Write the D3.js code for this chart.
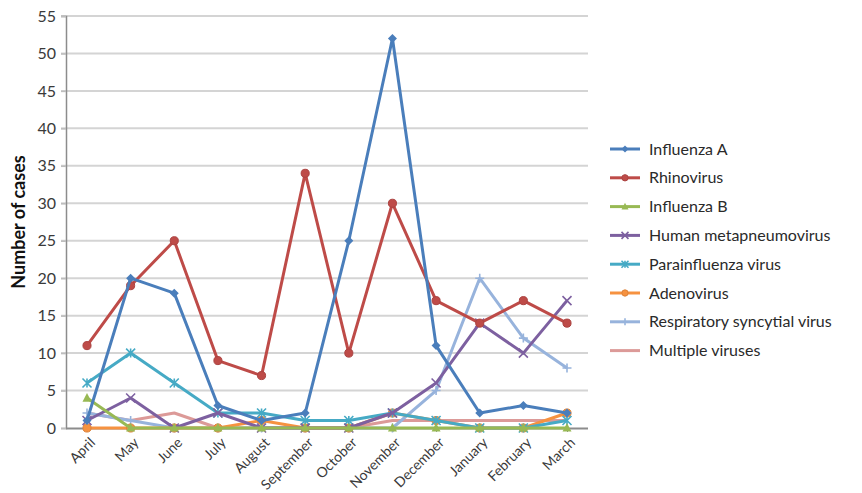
<!DOCTYPE html>
<html>
<head>
<meta charset="utf-8">
<script src="https://cdn.jsdelivr.net/npm/d3@7"></script>
<style>
  html, body { margin: 0; padding: 0; background: #fff; }
  svg { display: block; font-family: "Lato", "Open Sans", sans-serif; }
</style>
</head>
<body>
<svg id="chart" width="862" height="493"></svg>
<script>
// Months of the surveillance year
const months = ["April", "May", "June", "July", "August", "September", "October",
  "November", "December", "January", "February", "March"];

// Monthly case counts per virus
const influenzaA    = [1, 20, 18, 3, 1, 2, 25, 52, 11, 2, 3, 2];
const rhinovirus    = [11, 19, 25, 9, 7, 34, 10, 30, 17, 14, 17, 14];
const influenzaB    = [4, 0, 0, 0, 0, 0, 0, 0, 0, 0, 0, 0];
const metapneumo    = [1, 4, 0, 2, 0, 0, 0, 2, 6, 14, 10, 17];
const parainfluenza = [6, 10, 6, 2, 2, 1, 1, 2, 1, 0, 0, 1];
const adenovirus    = [0, 0, 0, 0, 1, 0, 0, 2, 1, 0, 0, 2];
const rsv           = [2, 1, 0, 0, 0, 0, 0, 0, 5, 20, 12, 8];
const multiple      = [2, 1, 2, 0, 0, 0, 0, 1, 1, 1, 1, 1];

const yTicks = [0, 5, 10, 15, 20, 25, 30, 35, 40, 45, 50, 55];

const series = [
  { name: "Influenza A", values: influenzaA, color: "#4a7ebb", marker: "diamond" },
  { name: "Rhinovirus", values: rhinovirus, color: "#be4b48", marker: "circle" },
  { name: "Influenza B", values: influenzaB, color: "#98b954", marker: "triangle" },
  { name: "Human metapneumovirus", values: metapneumo, color: "#7d60a0", marker: "x" },
  { name: "Parainfluenza virus", values: parainfluenza, color: "#46aac5", marker: "star" },
  { name: "Adenovirus", values: adenovirus, color: "#f69240", marker: "circle" },
  { name: "Respiratory syncytial virus", values: rsv, color: "#97b3dc", marker: "plus" },
  { name: "Multiple viruses", values: multiple, color: "#dc9a98", marker: "none" }
];

const svg = d3.select("#chart");
const margin = { left: 66, right: 274, top: 16, bottom: 65 };
const width = 862 - margin.left - margin.right;
const height = 493 - margin.top - margin.bottom;

const x = d3.scalePoint().domain(months).range([21, width - 21]);
const y = d3.scaleLinear().domain([0, 55]).range([height, 0]);

const g = svg.append("g").attr("transform", `translate(${margin.left},${margin.top})`);

// Horizontal grid lines
g.append("g")
  .selectAll("line")
  .data(yTicks.filter(d => d > 0))
  .join("line")
  .attr("x1", -5).attr("x2", width)
  .attr("y1", d => y(d)).attr("y2", d => y(d))
  .attr("stroke", "#d4d4d4").attr("stroke-width", 2);

// Y axis
const yAxis = g.append("g")
  .call(d3.axisLeft(y).tickValues(yTicks).tickSize(5).tickPadding(5));
yAxis.select(".domain").attr("stroke", "#8c8c8c").attr("stroke-width", 1.5);
yAxis.selectAll(".tick line").attr("stroke", "#bdbdbd").attr("stroke-width", 1.5);
yAxis.selectAll(".tick text")
  .attr("font-size", 16).attr("fill", "#3a3a3a")
  .attr("font-family", "Lato, 'Open Sans', sans-serif");

// X axis
const xAxis = g.append("g")
  .attr("transform", `translate(0,${height})`)
  .call(d3.axisBottom(x).tickSize(4).tickSizeOuter(0));
xAxis.select(".domain").attr("stroke", "#8c8c8c").attr("stroke-width", 2)
  .attr("d", `M0,0.5H${width}`);
xAxis.selectAll(".tick line").attr("stroke", "#8c8c8c");
xAxis.selectAll(".tick text")
  .attr("font-size", 14).attr("fill", "#3a3a3a")
  .attr("font-family", "Lato, 'Open Sans', sans-serif")
  .attr("text-anchor", "end")
  .attr("x", 0).attr("y", 0).attr("dy", "0.35em")
  .attr("transform", "translate(5,12) rotate(-45)");

// Y axis title
svg.append("text")
  .attr("transform", `translate(19,${margin.top + height / 2}) rotate(-90)`)
  .attr("dy", "0.35em")
  .attr("text-anchor", "middle")
  .attr("font-size", 18).attr("font-weight", "bold").attr("fill", "#111")
  .text("Number of cases");

// Marker shapes
function drawMarker(sel, marker, color, size) {
  const s = size;
  if (marker === "circle") {
    sel.append("circle").attr("r", s * 0.9).attr("fill", color)
      .attr("stroke", d3.color(color).darker(0.3)).attr("stroke-width", 1);
  } else if (marker === "diamond") {
    sel.append("path").attr("d", `M0,${-s}L${s},0L0,${s}L${-s},0Z`).attr("fill", color);
  } else if (marker === "triangle") {
    sel.append("path").attr("d", `M0,${-s * 1.1}L${s},${s * 0.8}L${-s},${s * 0.8}Z`).attr("fill", color);
  } else if (marker === "x") {
    sel.append("path").attr("d", `M${-s},${-s}L${s},${s}M${-s},${s}L${s},${-s}`)
      .attr("stroke", color).attr("stroke-width", 1.6).attr("fill", "none");
  } else if (marker === "star") {
    sel.append("path").attr("d", `M${-s},${-s}L${s},${s}M${-s},${s}L${s},${-s}M0,${-s}L0,${s}`)
      .attr("stroke", color).attr("stroke-width", 1.6).attr("fill", "none");
  } else if (marker === "plus") {
    sel.append("path").attr("d", `M${-s},0L${s},0M0,${-s}L0,${s}`)
      .attr("stroke", color).attr("stroke-width", 1.6).attr("fill", "none");
  }
}

const line = d3.line().x((d, i) => x(months[i])).y(d => y(d));

// Series lines, drawn last-to-first so Influenza A sits on top
const plot = g.append("g");
series.slice().reverse().forEach(s => {
  const sg = plot.append("g");
  sg.append("path")
    .datum(s.values)
    .attr("d", line)
    .attr("fill", "none")
    .attr("stroke", s.color)
    .attr("stroke-width", 3)
    .attr("stroke-linejoin", "round");
  sg.selectAll("g.m")
    .data(s.values)
    .join("g")
    .attr("class", "m")
    .attr("transform", (d, i) => `translate(${x(months[i])},${y(d)})`)
    .each(function () { drawMarker(d3.select(this), s.marker, s.color, 4.5); });
});

// Legend
const legend = svg.append("g").attr("transform", "translate(610,149)");
series.forEach((s, i) => {
  const row = legend.append("g").attr("transform", `translate(0,${i * 28.8})`);
  row.append("line").attr("x1", 0).attr("x2", 30).attr("y1", 0).attr("y2", 0)
    .attr("stroke", s.color).attr("stroke-width", 3);
  const m = row.append("g").attr("transform", "translate(15,0)");
  drawMarker(m, s.marker, s.color, 3.5);
  row.append("text").attr("x", 39).attr("y", 0).attr("dy", "0.35em")
    .attr("font-size", 16).attr("fill", "#2a2a2a")
    .text(s.name);
});
</script>
</body>
</html>
